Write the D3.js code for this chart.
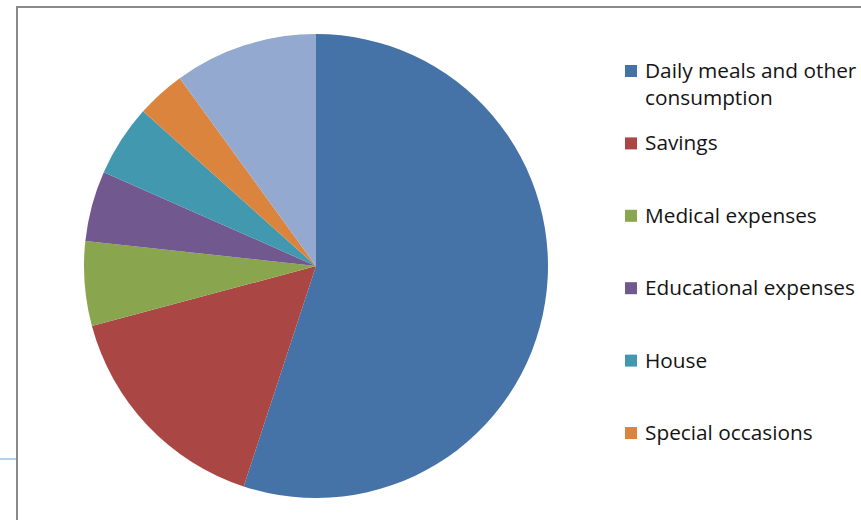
<!DOCTYPE html>
<html>
<head>
<meta charset="utf-8">
<script src="https://cdn.jsdelivr.net/npm/d3@7"></script>
<style>
  html, body { margin: 0; padding: 0; background: #fff; }
  svg { display: block; }
</style>
</head>
<body>
<svg id="chart" width="861" height="520"></svg>
<script>
// Household spending shares (percent)
const categories = [
  "Daily meals and other consumption",
  "Savings",
  "Medical expenses",
  "Educational expenses",
  "House",
  "Special occasions",
  "Others"
];
const values = [55.1, 15.8, 5.9, 4.9, 5.0, 3.4, 10.0];
const colors = ["#4572a7", "#aa4643", "#89a54e", "#71588f", "#4198af", "#db843d", "#93a9cf"];
// legend text, wrapped as drawn
const legendLines = [
  ["Daily meals and other", "consumption"],
  ["Savings"],
  ["Medical expenses"],
  ["Educational expenses"],
  ["House"],
  ["Special occasions"],
  ["Others"]
];

const svg = d3.select("#chart");
const W = 861, H = 520;

// chart frame
svg.append("line").attr("x1", 17).attr("y1", 7).attr("x2", W).attr("y2", 7)
  .attr("stroke", "#8a8a8a").attr("stroke-width", 2);
svg.append("line").attr("x1", 17).attr("y1", 6).attr("x2", 17).attr("y2", H)
  .attr("stroke", "#8a8a8a").attr("stroke-width", 2);
svg.append("line").attr("x1", 0).attr("y1", 459).attr("x2", 16).attr("y2", 459)
  .attr("stroke", "#9dc3e6").attr("stroke-width", 1.5);

// pie
const cx = 316, cy = 266, r = 232;
const color = d3.scaleOrdinal().domain(categories).range(colors);
const pie = d3.pie().sort(null).value(d => d.value);
const arc = d3.arc().innerRadius(0).outerRadius(r);
const data = categories.map((c, i) => ({ name: c, value: values[i] }));

svg.append("g").attr("transform", `translate(${cx},${cy})`)
  .selectAll("path")
  .data(pie(data))
  .join("path")
  .attr("d", arc)
  .attr("fill", d => color(d.data.name))
  .attr("stroke", "none");

// legend, clipped to the plot frame
svg.append("clipPath").attr("id", "legclip")
  .append("rect").attr("x", 600).attr("y", 20).attr("width", 261).attr("height", 450);

const legY = d3.scaleLinear().domain([0, 5]).range([71, 433]);
const leg = svg.append("g").attr("clip-path", "url(#legclip)")
  .selectAll("g")
  .data(categories)
  .join("g")
  .attr("transform", (d, i) => `translate(625,${legY(i)})`);

leg.append("rect")
  .attr("x", 0).attr("y", -6).attr("width", 12).attr("height", 12)
  .attr("fill", d => color(d));

leg.each(function (d, i) {
  const t = d3.select(this).append("text")
    .attr("x", 20)
    .attr("font-family", "'Open Sans', Lato, sans-serif")
    .attr("font-size", 20.8)
    .attr("fill", "#141414");
  legendLines[i].forEach((line, j) => {
    t.append("tspan").attr("x", 20).attr("y", 7 + j * 27).text(line);
  });
});
</script>
</body>
</html>
